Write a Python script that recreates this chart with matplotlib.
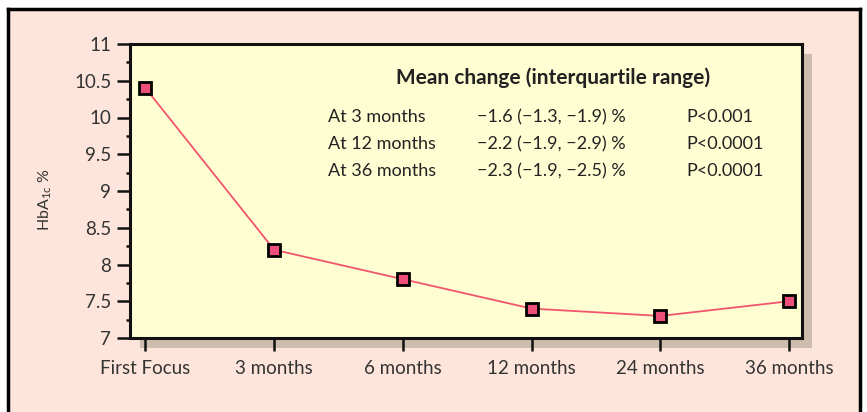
import matplotlib.pyplot as plt
import matplotlib.patches as patches
from matplotlib.lines import Line2D
from matplotlib.ticker import MultipleLocator

plt.rcParams['font.family'] = ['Lato', 'DejaVu Sans']

# data
visits = ["First Focus", "3 months", "6 months", "12 months", "24 months", "36 months"]
hba1c = [10.4, 8.2, 7.8, 7.4, 7.3, 7.5]

ytick_vals = [7, 7.5, 8, 8.5, 9, 9.5, 10, 10.5, 11]
ytick_labels = ["7", "7.5", "8", "8.5", "9", "9.5", "10", "10.5", "11"]

table_title = "Mean change (interquartile range)"
row_names = ["At 3 months", "At 12 months", "At 36 months"]
row_changes = ["\u22121.6 (\u22121.3, \u22121.9) %", "\u22122.2 (\u22121.9, \u22122.9) %",
               "\u22122.3 (\u22121.9, \u22122.5) %"]
row_p = ["P<0.001", "P<0.0001", "P<0.0001"]

W, H = 867, 412
fig = plt.figure(figsize=(W / 100, H / 100), dpi=100)
fig.patch.set_facecolor("white")

# pink panel with black border (left, top, right)
x0, x1, ytop = 8 / W, 860 / W, 1 - 9 / H
fig.patches.append(patches.Rectangle((x0, 0), x1 - x0, ytop, transform=fig.transFigure,
                                     facecolor="#fde5db", edgecolor="none", zorder=-3))
for xs, ys in [([x0, x0], [0, ytop]), ([x0, x1], [ytop, ytop]), ([x1, x1], [0, ytop])]:
    fig.lines.append(Line2D(xs, ys, transform=fig.transFigure, color="black", lw=2.5, zorder=-2))

axl, axr, axt, axb = 130 / W, 802 / W, 1 - 44 / H, 1 - 338 / H
# drop shadow behind plot area
fig.patches.append(patches.Rectangle((axl + 10 / W, axb - 10 / H), axr - axl, axt - axb,
                                     transform=fig.transFigure, facecolor="#cdbdac",
                                     edgecolor="none", zorder=-1))

ax = fig.add_axes([axl, axb, axr - axl, axt - axb])
ax.set_zorder(2)
ax.set_facecolor("#fffdd2")

xs = range(len(visits))
ax.plot(xs, hba1c, color="#f2566e", lw=1.3, marker="s", markersize=9,
        markerfacecolor="#ec4f78", markeredgecolor="black", markeredgewidth=2, zorder=3)

ax.set_xlim(-0.12, 5.1)
ax.set_ylim(7, 11)
ax.set_xticks(list(xs))
ax.set_xticklabels(visits)
ax.set_yticks(ytick_vals)
ax.set_yticklabels(ytick_labels)
ax.yaxis.set_minor_locator(MultipleLocator(0.25))

for s in ax.spines.values():
    s.set_linewidth(2.2)
    s.set_color("#111111")

ax.tick_params(axis="both", which="major", direction="out", length=9.5, width=1.8,
               color="#111111", labelsize=13.5, labelcolor="#333333")
ax.tick_params(axis="y", which="minor", direction="out", length=3, width=1.8, color="#111111")
ax.tick_params(axis="x", pad=6)
ax.tick_params(axis="y", pad=4)

fig.text(45 / W, 1 - 200 / H, "HbA$_\\mathregular{1c}$ %", rotation=90,
         ha="center", va="center", fontsize=11.5, color="#333333")

# summary table
ax.text(553 / W, 1 - 78 / H, table_title, transform=fig.transFigure, ha="center",
        va="center", fontsize=15, fontweight="bold", color="#222222")
row_y = [117, 144, 171]
for name, chg, p, y in zip(row_names, row_changes, row_p, row_y):
    fy = 1 - y / H
    ax.text(328 / W, fy, name, transform=fig.transFigure, ha="left", va="center",
            fontsize=13, color="#222222")
    ax.text(477 / W, fy, chg, transform=fig.transFigure, ha="left", va="center",
            fontsize=13, color="#222222")
    ax.text(686 / W, fy, p, transform=fig.transFigure, ha="left", va="center",
            fontsize=13, color="#222222")

fig.savefig("out.png", dpi=100)
